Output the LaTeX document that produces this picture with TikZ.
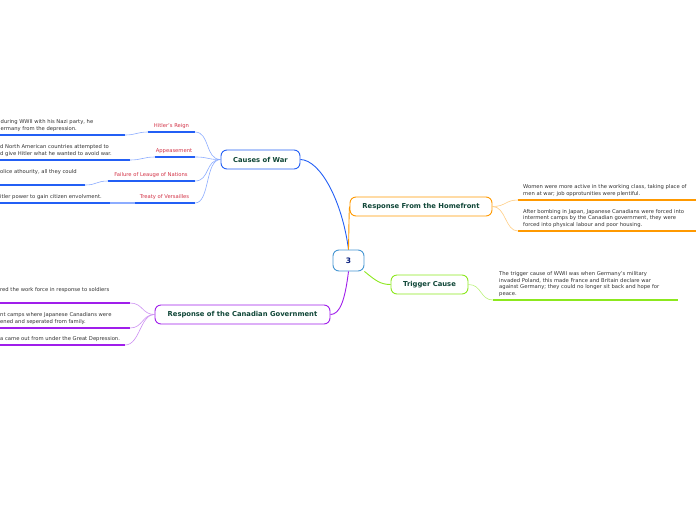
\documentclass[tikz,border=0pt]{standalone}
\usepackage{fontspec}
\setmainfont{DejaVu Sans}
\definecolor{mblue}{RGB}{35,95,245}
\definecolor{lblue}{RGB}{140,172,255}
\definecolor{morange}{RGB}{255,153,0}
\definecolor{lorange}{RGB}{255,205,130}
\definecolor{mgreen}{RGB}{140,232,30}
\definecolor{lgreen}{RGB}{185,242,120}
\definecolor{mpurple}{RGB}{160,30,235}
\definecolor{lpurple}{RGB}{205,145,242}
\definecolor{cblue}{RGB}{70,150,210}
\definecolor{lred}{RGB}{210,50,70}
\definecolor{ttl}{RGB}{15,70,55}
\definecolor{tgrey}{RGB}{50,50,50}
\tikzset{
  topic/.style={draw, rounded corners=6pt, fill=white, minimum height=19pt,
    inner sep=0pt, line width=0.9pt, font=\fontsize{6.8}{8}\selectfont\bfseries, text=ttl},
  lbl/.style={font=\fontsize{5.25}{6}\selectfont, text=lred, inner sep=0pt, anchor=base},
  txt/.style={inner sep=0pt, text=tgrey, anchor=base west},
  uline/.style={line width=1.3pt},
  conn/.style={line width=0.9pt},
  subc/.style={line width=0.6pt},
}
\newcommand{\blk}[1]{\parbox[b]{300pt}{\fontsize{5.25}{6.7}\selectfont\raggedright #1}}
\begin{document}
\begin{tikzpicture}[x=1pt,y=-1pt]
\useasboundingbox (0,0) rectangle (696,520);
% topics
\node[topic, draw=cblue, minimum width=31pt, minimum height=21pt, font=\fontsize{7.5}{9}\selectfont\bfseries, text=ttl!50!blue!80!black] (c) at (348.5,260.5) {3};
\node[topic, draw=mblue, minimum width=79pt] (cw) at (260.5,159.5) {Causes of War};
\node[topic, draw=morange, minimum width=142pt] (hf) at (421,206.5) {Response From the Homefront};
\node[topic, draw=mgreen, minimum width=77pt] (tc) at (429.5,284.5) {Trigger Cause};
\node[topic, draw=mpurple, minimum width=175pt] (cg) at (242.5,314.5) {Response of the Canadian Government};
% main connectors
\draw[conn, mblue] (c.north) .. controls (342,200) and (320,160) .. (cw.east);
\draw[conn, morange] (c.north) .. controls (349,225) and (349,212) .. (hf.west);
\draw[conn, mgreen] (c.south east) .. controls (375,280) and (380,284.5) .. (tc.west);
\draw[conn, mpurple] (c.south) .. controls (345,300) and (340,314.5) .. (cg.east);
% causes labels
\node[lbl] (hr) at (171.5,127.5) {Hitler's Reign};
\node[lbl] (ap) at (174,152.5) {Appeasement};
\node[lbl] (fl) at (151,176.5) {Failure of Leauge of Nations};
\node[lbl] (tv) at (164.5,198.5) {Treaty of Versailles};
\coordinate (hrL) at (148,132); \coordinate (hrR) at (195,132);
\coordinate (apL) at (155,157); \coordinate (apR) at (195,157);
\coordinate (flL) at (108,181); \coordinate (flR) at (195,181);
\coordinate (tvL) at (135,203); \coordinate (tvR) at (195,203);
\draw[uline, mblue] (hrL) -- (hrR);
\draw[uline, mblue] (apL) -- (apR);
\draw[uline, mblue] (flL) -- (flR);
\draw[uline, mblue] (tvL) -- (tvR);
\draw[subc, lblue] (cw.west) .. controls (205,159.5) and (210,132) .. (hrR);
\draw[subc, lblue] (cw.west) .. controls (205,159.5) and (210,157) .. (apR);
\draw[subc, lblue] (cw.west) .. controls (205,159.5) and (210,181) .. (flR);
\draw[subc, lblue] (cw.west) .. controls (205,159.5) and (210,203) .. (tvR);
% causes texts
\coordinate (hrA) at (0,135); \coordinate (hrB) at (125,135);
\coordinate (apA) at (0,160); \coordinate (apB) at (130,160);
\coordinate (flA) at (0,185); \coordinate (flB) at (85,185);
\coordinate (tvA) at (0,203); \coordinate (tvB) at (110,203);
\draw[uline, mblue] (hrA) -- (hrB);
\draw[uline, mblue] (apA) -- (apB);
\draw[uline, mblue] (flA) -- (flB);
\draw[uline, mblue] (tvA) -- (tvB);
\draw[subc, lblue] (hrL) .. controls (137,132) and (136,135) .. (hrB);
\draw[subc, lblue] (apL) .. controls (143,157) and (142,160) .. (apB);
\draw[subc, lblue] (flL) .. controls (96,181) and (97,185) .. (flB);
\draw[subc, lblue, line width=1.1pt] (tvL) -- (tvB);
\node[txt] (hrT) at (0.5,130.5) {\blk{during WWII with his Nazi party, he\\ermany from the depression.}};
\node[txt] (apT) at (0,155.5) {\blk{d North American countries attempted to\\d give Hitler what he wanted to avoid war.}};
\node[txt] (flT) at (0,173.5) {\blk{olice athourity, all they could}};
\node[txt] (tvT) at (0,198.5) {\blk{itler power to gain citizen envolvment.}};
% homefront
\coordinate (h1A) at (518,200); \coordinate (h1B) at (696,200);
\coordinate (h2A) at (518,231); \coordinate (h2B) at (696,231);
\draw[uline, morange] (h1A) -- (h1B);
\draw[uline, morange] (h2A) -- (h2B);
\draw[subc, lorange] (hf.east) .. controls (506,206.5) and (505,200) .. (h1A);
\draw[subc, lorange] (hf.east) .. controls (506,206.5) and (505,231) .. (h2A);
\node[txt] (h1T) at (523,195.5) {\blk{Women were more active in the working class, taking place of\\men at war; job opprotunities were plentiful.}};
\node[txt] (h2T) at (523,226.5) {\blk{After bombing in Japan, Japanese Canadians were forced into\\interment camps by the Canadian government, they were\\forced into physical labour and poor housing.}};
% trigger
\coordinate (t1A) at (493,300); \coordinate (t1B) at (678,300);
\draw[uline, mgreen] (t1A) -- (t1B);
\draw[subc, lgreen] (tc.east) .. controls (482,284.5) and (480,300) .. (t1A);
\node[txt] (t1T) at (499,295.5) {\blk{The trigger cause of WWII was when Germany's military\\invaded Poland, this made France and Britain declare war\\against Germany; they could no longer sit back and hope for\\peace.}};
% canadian government
\coordinate (g1A) at (0,303); \coordinate (g1B) at (130,303);
\coordinate (g2A) at (0,328); \coordinate (g2B) at (130,328);
\coordinate (g3A) at (0,345); \coordinate (g3B) at (125,345);
\draw[uline, mpurple] (g1A) -- (g1B);
\draw[uline, mpurple] (g2A) -- (g2B);
\draw[uline, mpurple] (g3A) -- (g3B);
\draw[subc, lpurple] (cg.west) .. controls (142,314.5) and (143,303) .. (g1B);
\draw[subc, lpurple] (cg.west) .. controls (142,314.5) and (143,328) .. (g2B);
\draw[subc, lpurple] (cg.west) .. controls (140,314.5) and (140,345) .. (g3B);
\node[txt] (g1T) at (0,291.5) {\blk{red the work force in response to soldiers}};
\node[txt] (g2T) at (0,323.5) {\blk{nt camps where Japanese Canadians were\\ened and seperated from family.}};
\node[txt] (g3T) at (0,340.5) {\blk{a came out from under the Great Depression.}};
\end{tikzpicture}
\end{document}
